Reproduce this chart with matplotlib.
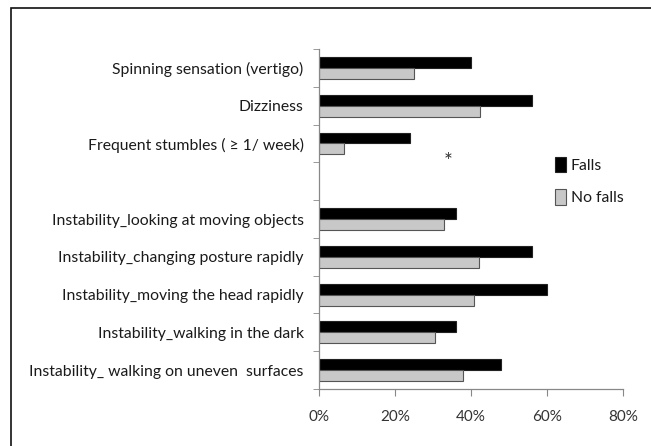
import matplotlib.pyplot as plt
from matplotlib.patches import Rectangle
from matplotlib.ticker import FuncFormatter

# symptom categories, top to bottom (blank slot separates the two groups)
categories = ["Spinning sensation (vertigo)",
              "Dizziness",
              "Frequent stumbles ( \u2265 1/ week)",
              "",
              "Instability_looking at moving objects",
              "Instability_changing posture rapidly",
              "Instability_moving the head rapidly",
              "Instability_walking in the dark",
              "Instability_ walking on uneven  surfaces"]
falls = [40, 56, 24, None, 36, 56, 60, 36, 48]
no_falls = [25, 42.4, 6.7, None, 33, 42.2, 40.8, 30.4, 38]

plt.rcParams['font.family'] = ['Lato', 'DejaVu Sans']

fig = plt.figure(figsize=(6.51, 4.46), dpi=100)
ax = fig.add_axes([0.490, 0.1278, 0.467, 0.7622])

# outer frame of the picture (only left and top edges show)
fig.patches.append(Rectangle((11 / 651, -0.05), 1.1, 1.05 - 8 / 446,
                             transform=fig.transFigure, fill=False,
                             edgecolor='#111111', linewidth=1.2))

h = 0.29
ys = list(range(len(categories)))
for i in ys:
    if falls[i] is None:
        continue
    ax.barh(i - h / 2, falls[i], height=h, color='black', edgecolor='#222222',
            linewidth=0.8, label='Falls' if i == 0 else None)
    ax.barh(i + h / 2, no_falls[i], height=h, color='#c8c8c8', edgecolor='#555555',
            linewidth=0.8, label='No falls' if i == 0 else None)

ax.set_ylim(len(categories) - 0.5, -0.5)
ax.set_xlim(0, 80)
ax.set_xticks([0, 20, 40, 60, 80])
ax.xaxis.set_major_formatter(FuncFormatter(lambda v, p: f"{v:.0f}%"))

ax.set_yticks(ys)
ax.set_yticklabels(categories)
ax.set_yticks([i - 0.5 for i in range(len(categories) + 1)], minor=True)

ax.tick_params(axis='y', which='major', length=0, pad=11, labelsize=11.3, labelcolor='#1a1a1a')
ax.tick_params(axis='y', which='minor', length=4, color='#888888', direction='out')
ax.tick_params(axis='x', length=5, color='#888888', pad=10, labelsize=11, labelcolor='#333333')

for s in ['top', 'right']:
    ax.spines[s].set_visible(False)
for s in ['left', 'bottom']:
    ax.spines[s].set_color('#888888')
    ax.spines[s].set_linewidth(0.9)

ax.text(34, 2.5, '*', ha='center', va='center', fontsize=15, color='#333333')

leg = fig.legend(loc='upper left', bbox_to_anchor=(541 / 651, 1 - 143 / 446),
                 frameon=False, fontsize=11.3, handlelength=0.7, handleheight=1.1,
                 handletextpad=0.3, labelspacing=1.05)
for t in leg.get_texts():
    t.set_color('#1a1a1a')

fig.savefig('out.png', dpi=100, facecolor='white')
